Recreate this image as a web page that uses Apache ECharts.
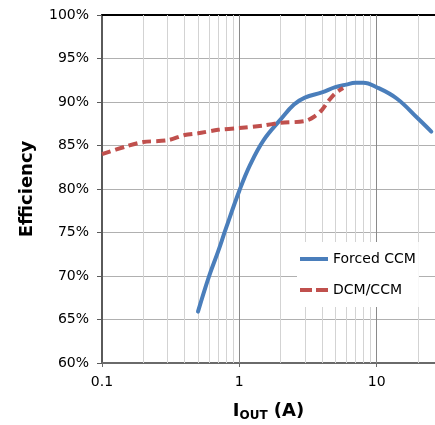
<!DOCTYPE html>
<html>
<head>
<meta charset="utf-8">
<script src="https://cdn.jsdelivr.net/npm/echarts@6/dist/echarts.min.js"></script>
<style>
  html, body { margin: 0; padding: 0; background: #fff; }
  #chart { width: 435px; height: 425px; }
</style>
</head>
<body>
<div id="chart"></div>
<script>
// ---- data ----
const forcedX = [0.5, 0.6, 0.7, 0.8, 1, 1.2, 1.5, 2, 2.5, 3, 4, 5, 6, 7, 8, 10, 14, 20, 25];
const forcedY = [65.9, 69.9, 72.8, 75.5, 79.8, 82.8, 85.6, 88.0, 89.7, 90.5, 91.1, 91.7, 92.0, 92.2, 92.2, 91.7, 90.4, 88.1, 86.6];
const dcmX = [0.1, 0.15, 0.2, 0.3, 0.4, 0.5, 0.7, 1, 1.5, 2, 3, 3.5, 4, 4.5, 5, 5.7];
const dcmY = [84.0, 84.9, 85.4, 85.6, 86.2, 86.4, 86.8, 87.0, 87.3, 87.6, 87.8, 88.3, 89.1, 90.2, 91.0, 91.6];
const xTickValues = [0.1, 1, 10];
const majorGridX = [1, 10];
const minorGridX = [0.2, 0.3, 0.4, 0.5, 0.6, 0.7, 0.8, 0.9, 2, 3, 4, 5, 6, 7, 8, 9, 20];
const seriesNames = ['Forced CCM', 'DCM/CCM'];

const font = 'DejaVu Sans';
const chart = echarts.init(document.getElementById('chart'), null, { renderer: 'canvas' });

const gridLines = minorGridX.map(v => ({ xAxis: v, lineStyle: { color: '#d3d3d3', width: 1, type: 'solid' } }))
  .concat(majorGridX.map(v => ({ xAxis: v, lineStyle: { color: '#8a8a8a', width: 1, type: 'solid' } })));

chart.setOption({
  animation: false,
  backgroundColor: '#fff',
  grid: { left: 102, top: 15, right: 0, bottom: 62, containLabel: false, outerBoundsMode: 'none' },
  legend: {
    data: [
      { name: seriesNames[0], icon: 'path://M0,0H28V4H0Z' },
      { name: seriesNames[1], icon: 'path://M0,0H12V4H0Z M16,0H28V4H16Z' }
    ],
    orient: 'vertical',
    left: 297,
    top: 242,
    padding: [10, 3, 10, 3],
    itemWidth: 28,
    itemHeight: 14,
    itemGap: 17,
    backgroundColor: '#ffffff',
    textStyle: { fontFamily: font, fontSize: 14, color: '#000' }
  },
  xAxis: [{
    type: 'log',
    logBase: 10,
    min: 0.1,
    max: 26.6,
    axisLine: { show: true, lineStyle: { color: '#6a6a6a', width: 2 } },
    axisTick: { show: true, length: 4, customValues: xTickValues, lineStyle: { color: '#6a6a6a', width: 1 } },
    axisLabel: { show: true, customValues: xTickValues, fontFamily: font, fontSize: 14, color: '#000', margin: 12,
      formatter: v => String(v) },
    splitLine: { show: false },
    name: '{a|I}{b|OUT}{a| (A)}',
    nameLocation: 'middle',
    nameGap: 37,
    nameTextStyle: {
      rich: {
        a: { fontFamily: font, fontSize: 18, fontWeight: 'bold', color: '#000', lineHeight: 22 },
        b: { fontFamily: font, fontSize: 12, fontWeight: 'bold', color: '#000', lineHeight: 14, verticalAlign: 'bottom' }
      }
    }
  }, {
    type: 'value',
    position: 'top',
    min: 0, max: 1,
    axisLine: { show: true, lineStyle: { color: '#000', width: 2 } },
    axisTick: { show: false },
    axisLabel: { show: false },
    splitLine: { show: false }
  }],
  yAxis: {
    type: 'value',
    min: 60,
    max: 100,
    interval: 5,
    axisLine: { show: true, lineStyle: { color: '#5a5a5a', width: 2 } },
    axisTick: { show: true, length: 5, lineStyle: { color: '#5a5a5a', width: 1 } },
    axisLabel: { fontFamily: font, fontSize: 14, color: '#000', margin: 13, formatter: '{value}%' },
    splitLine: { show: true, lineStyle: { color: '#b0b0b0', width: 1 } },
    name: 'Efficiency',
    nameLocation: 'middle',
    nameRotate: 90,
    nameGap: 66,
    nameTextStyle: { fontFamily: font, fontSize: 18, fontWeight: 'bold', color: '#000' }
  },
  series: [{
    name: 'grid',
    type: 'line',
    data: [],
    silent: true,
    z: 1,
    markLine: { silent: true, z: 1, symbol: ['none', 'none'], label: { show: false }, data: gridLines }
  }, {
    name: seriesNames[0],
    type: 'line',
    data: forcedX.map((x, i) => [x, forcedY[i]]),
    smooth: 0.4,
    showSymbol: false,
    symbol: 'none',
    z: 3,
    color: '#4a7ebb',
    lineStyle: { color: '#4a7ebb', width: 4, cap: 'round' }
  }, {
    name: seriesNames[1],
    type: 'line',
    data: dcmX.map((x, i) => [x, dcmY[i]]),
    smooth: 0.3,
    showSymbol: false,
    symbol: 'none',
    z: 3,
    color: '#c0504d',
    lineStyle: { color: '#c0504d', width: 4, type: [9, 5], cap: 'butt' }
  }]
});
</script>
</body>
</html>
